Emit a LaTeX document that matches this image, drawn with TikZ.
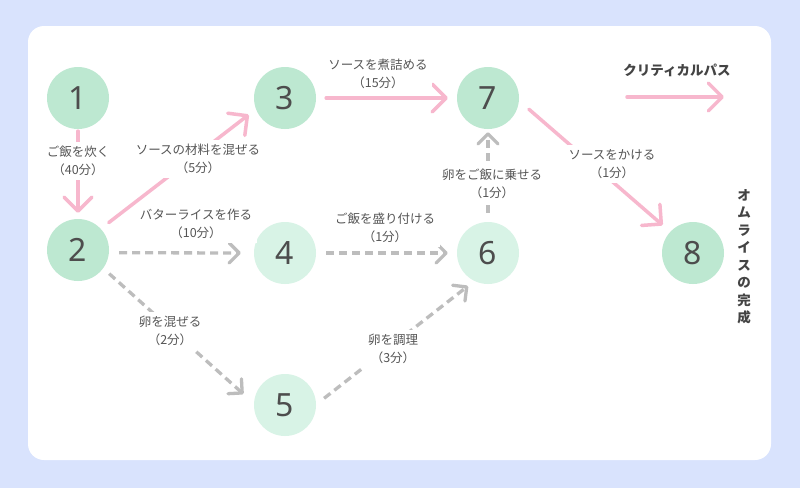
\documentclass[tikz,border=0pt]{standalone}
\usepackage{fontspec}
\setmainfont{Noto Sans CJK JP}
\newfontfamily\digitfont{Noto Sans}
\usetikzlibrary{arrows.meta}
\definecolor{bgblue}{HTML}{D9E3FD}
\definecolor{critgreen}{HTML}{BDE8D1}
\definecolor{subgreen}{HTML}{D8F3E6}
\definecolor{pathpink}{HTML}{F7B7CD}
\definecolor{dashgray}{HTML}{BDBDBD}
\definecolor{labelgray}{HTML}{555555}
\definecolor{digitgray}{HTML}{4D4D4D}
\definecolor{titlegray}{HTML}{444444}
\begin{document}
\begin{tikzpicture}[x=1pt, y=-1pt, line join=round, font=\fontsize{12.5}{18}\selectfont, text=labelgray,
	event/.style={circle, minimum size=62pt, inner sep=0pt, text=digitgray, font=\digitfont\fontsize{32}{32}\selectfont},
	critnode/.style={event, fill=critgreen},
	subnode/.style={event, fill=subgreen},
	crit/.style={draw=pathpink, line width=3.5pt, line cap=round, -{Straight Barb[length=14pt,width=28pt,round]}},
	sub/.style={draw=dashgray, line width=3.3pt, dash pattern=on 8pt off 5pt, -{Straight Barb[length=10pt,width=20pt,round]}},
	task/.style={align=center, fill=white, inner sep=4.5pt},
	heading/.style={font=\bfseries\fontsize{13.5}{17.5}\selectfont, text=titlegray, align=center}]
	\fill[bgblue] (0,0) rectangle (800,488);
	\fill[white, rounded corners=16pt] (28,26) rectangle (771,460);
	\foreach \n/\px/\py/\k in {1/78/98/critnode, 2/78/250/critnode, 3/285/98/critnode, 7/488/98/critnode, 8/693/253/critnode, 4/285/253/subnode, 5/285/405/subnode, 6/488/253/subnode}
		\node[\k] (n\n) at (\px,\py) {\n};
	\draw[crit, shorten <=2pt, shorten >=6pt] (n1) -- (n2);
	\draw[crit, shorten <=10pt, shorten >=9pt] (n2.43) -- (n3.201);
	\draw[crit, shorten <=10pt, shorten >=9pt] (n3) -- (n7);
	\draw[crit, shorten <=13pt, shorten >=10pt] (n7.-5) -- (n8.137);
	\draw[sub, shorten <=10pt, shorten >=13pt] (n2.-5) -- (n4.180);
	\draw[sub, shorten <=8pt, shorten >=14pt] (n2.-36) -- (n5.177);
	\draw[sub, shorten <=10pt, shorten >=9pt] (n4) -- (n6);
	\draw[sub, shorten <=10pt, shorten >=8pt] (n5.1) -- (n6.244);
	\draw[sub, shorten <=9pt, shorten >=3pt] (n6) -- (n7);
	\node[task] (t12) at (78,161) {ご飯を炊く\\（40分）};
	\node[task] (t23) at (198,159) {ソースの材料を混ぜる\\（5分）};
	\node[task] (t37) at (378,74) {ソースを煮詰める\\（15分）};
	\node[task] (t78) at (612,164) {ソースをかける\\（1分）};
	\node[task] (t24) at (196,224) {バターライスを作る\\（10分）};
	\node[task] (t25) at (170,331) {卵を混ぜる\\（2分）};
	\node[task] (t46) at (385,228) {ご飯を盛り付ける\\（1分）};
	\node[task] (t56) at (393,349) {卵を調理\\（3分）};
	\node[task] (t67) at (492,184) {卵をご飯に乗せる\\（1分）};
	\coordinate (leg start) at (627,97);
	\coordinate (leg end) at (724,97);
	\draw[crit] (leg start) -- (leg end);
	\node[heading] (legend) at (677,70) {クリティカルパス};
	\node[heading] (done) at (744,257) {オ\\ム\\ラ\\イ\\ス\\の\\完\\成};
\end{tikzpicture}
\end{document}
